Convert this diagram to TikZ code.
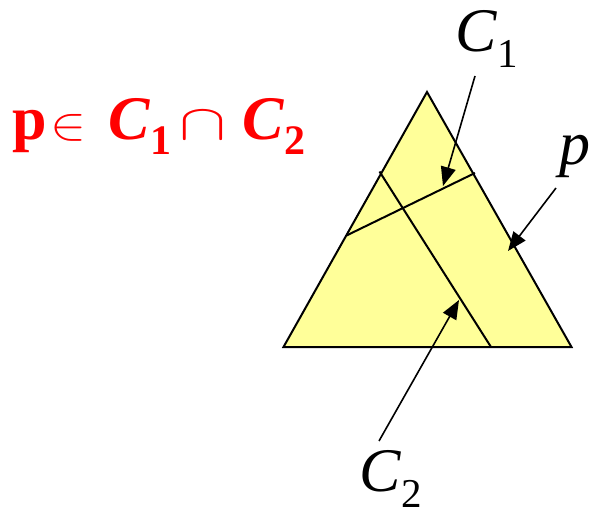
\documentclass[tikz,border=0pt]{standalone}
\usepackage{fontspec}
\setmainfont{Liberation Serif}
\usetikzlibrary{arrows.meta}
\definecolor{triyellow}{RGB}{255,255,153}
\tikzset{
  edge/.style={line width=2pt, line join=miter},
  pointer/.style={line width=1.6pt, -{Triangle[length=19pt,width=15pt]}},
  biglabel/.style={inner sep=0pt, font=\fontsize{62}{62}\selectfont},
}
\newcommand{\subdigit}[1]{\raisebox{-16pt}{\fontsize{41}{41}\selectfont #1}}
\newcommand{\redsub}[1]{\raisebox{-15pt}{\fontsize{42}{42}\selectfont #1}}
\begin{document}
\begin{tikzpicture}[x=1pt,y=-1pt]
\useasboundingbox (0,0) rectangle (595,516);
% triangle
\coordinate (A) at (427,92);
\coordinate (B) at (283.5,347);
\coordinate (Cc) at (571.5,347);
\filldraw[edge, fill=triyellow] (A) -- (B) -- (Cc) -- cycle;
% dividing lines
\coordinate (l1a) at (346.5,235.5);
\coordinate (l1b) at (475,173);
\coordinate (l2a) at (379.5,171.5);
\coordinate (l2b) at (491,347);
\draw[edge] (l1a) -- (l1b);
\draw[edge] (l2a) -- (l2b);
% labels
\node[biglabel, anchor=base west] (c1) at (455,52) {\textit{C}\subdigit{1}};
\node[biglabel, anchor=base west] (pl) at (559,165) {\textit{p}};
\node[biglabel, anchor=base west] (c2) at (359,491) {\textit{C}\subdigit{2}};
% arrows
\coordinate (c1s) at (475,76);
\coordinate (c1t) at (443,186);
\coordinate (ps) at (556,188);
\coordinate (pt) at (508,251);
\coordinate (c2s) at (379,441);
\coordinate (c2t) at (459,300);
\draw[pointer] (c1s) -- (c1t);
\draw[pointer] (ps) -- (pt);
\draw[pointer] (c2s) -- (c2t);
% red statement
\node[inner sep=0pt, anchor=base west, text=red, font=\fontsize{62}{62}\selectfont\bfseries] (stmt) at (12,140)
  {\makebox[38pt][l]{p}\resizebox{36pt}{25pt}{$\in$}\hspace{22pt}\textit{C}\redsub{1}\hspace{8pt}\resizebox{47pt}{28pt}{$\cap$}\hspace{16pt}\textit{C}\redsub{2}};
\end{tikzpicture}
\end{document}
